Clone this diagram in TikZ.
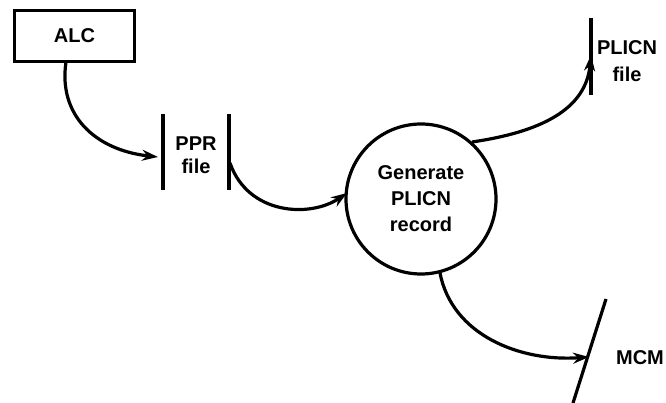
\documentclass[tikz,border=0pt]{standalone}
\usepackage{fontspec}
\setmainfont{Liberation Sans}
\usetikzlibrary{arrows.meta}
\begin{document}
\begin{tikzpicture}[x=1pt,y=-1pt,
  lbl/.style={font=\bfseries\fontsize{20}{25}\selectfont, align=center, inner sep=0pt},
  line/.style={line width=3.2pt},
  flow/.style={line width=3.2pt, -{Stealth[length=16pt,width=11pt]}}]
\useasboundingbox (0,0) rectangle (666,403);
% ALC box
\node[draw, line width=3.2pt, minimum width=120pt, minimum height=51pt, inner sep=0pt, lbl] (alc) at (74.5,36) {ALC};
% PPR file
\coordinate (pprl1) at (163,114); \coordinate (pprl2) at (163,190);
\coordinate (pprr1) at (229,114); \coordinate (pprr2) at (229,190);
\draw[line] (pprl1) -- (pprl2);
\draw[line] (pprr1) -- (pprr2);
\node[lbl, font=\bfseries\fontsize{20}{23}\selectfont] (ppr) at (196,155) {PPR\\file};
% process
\node[draw, circle, line width=3.2pt, minimum size=150pt, inner sep=0pt, lbl, font=\bfseries\fontsize{20}{26}\selectfont] (gen) at (421,199) {Generate\\PLICN\\record};
% PLICN file
\coordinate (plt) at (591,18); \coordinate (plb) at (591,95);
\draw[line] (plt) -- (plb);
\node[lbl, font=\bfseries\fontsize{20}{27}\selectfont] (plicn) at (627,61) {PLICN\\file};
% MCM
\coordinate (mt) at (606,299); \coordinate (mb) at (573,403);
\draw[line] (mt) -- (mb);
\node[lbl] (mcm) at (640,358) {MCM};
% connectors
\coordinate (a1) at (66,62);
\coordinate (a2) at (158,157);
\draw[flow] (a1) .. controls (58,115) and (95,150) .. (a2);
\coordinate (b1) at (230,163);
\coordinate (b2) at (347,193);
\draw[flow] (b1) .. controls (248,215) and (310,218) .. (b2);
\coordinate (c1) at (472,142);
\coordinate (c2) at (591,55);
\draw[flow] (c1) .. controls (540,132) and (586,110) .. (c2);
\coordinate (d1) at (440,273);
\coordinate (d2) at (589,357);
\draw[flow] (d1) .. controls (452,335) and (520,362) .. (d2);
\end{tikzpicture}
\end{document}
